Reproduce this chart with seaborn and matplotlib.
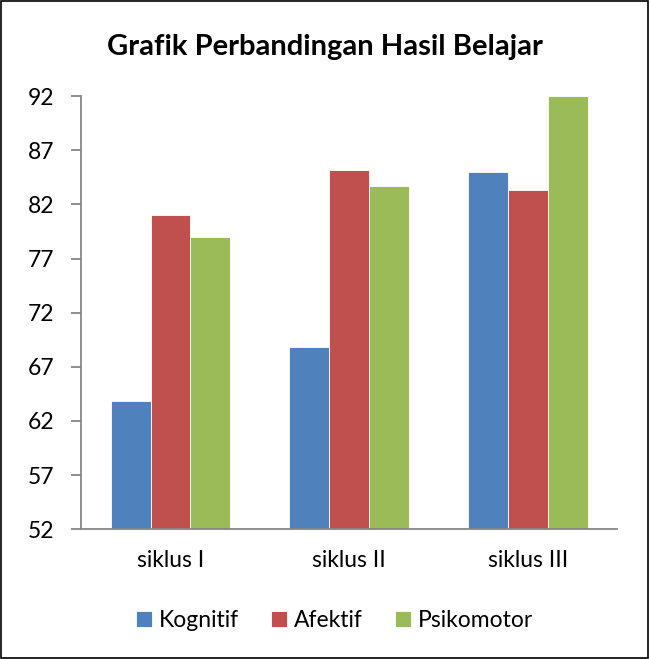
import matplotlib
matplotlib.use("Agg")
import matplotlib.pyplot as plt
import seaborn as sns
import pandas as pd
from matplotlib.patches import Rectangle
from matplotlib.ticker import FixedLocator

categories = ["siklus I", "siklus II", "siklus III"]
series = ["Kognitif", "Afektif", "Psikomotor"]
kognitif = [63.8, 68.8, 85.0]
afektif = [81.0, 85.2, 83.3]
psikomotor = [79.0, 83.7, 92.0]
yticks = [52, 57, 62, 67, 72, 77, 82, 87, 92]
colors = ["#4F81BD", "#C0504D", "#9BBB59"]

rows = []
for name, vals in zip(series, [kognitif, afektif, psikomotor]):
    for c, v in zip(categories, vals):
        rows.append({"cat": c, "series": name, "value": v})
df = pd.DataFrame(rows)

sns.set_theme(style="white")
plt.rcParams['font.family'] = ['Lato', 'DejaVu Sans']
plt.rcParams['text.color'] = 'black'
plt.rcParams['xtick.color'] = 'black'
plt.rcParams['ytick.color'] = 'black'

fig = plt.figure(figsize=(6.49, 6.59), dpi=100)
ax = fig.add_axes([0.125, 0.197, 0.826, 0.657])

sns.barplot(data=df, x="cat", y="value", hue="series", order=categories,
            hue_order=series, palette=colors, width=0.67, gap=0, saturation=1,
            edgecolor="white", linewidth=0.6, ax=ax, legend=True)

ax.set_ylim(52, 92)
ax.set_xlim(-0.5, 2.5)
ax.set_yticks(yticks)
ax.set_yticklabels([str(t) for t in yticks], fontsize=16.5)
ax.set_xlabel("")
ax.set_ylabel("")
ax.set_xticks(range(len(categories)))
ax.set_xticklabels(categories, fontsize=16.5)
ax.xaxis.set_minor_locator(FixedLocator([-0.5, 0.5, 1.5, 2.5]))
ax.tick_params(axis="x", which="major", length=0, pad=15, labelcolor="black")
ax.tick_params(axis="x", which="minor", length=7, width=1.3, color="#868686", direction="out")
ax.tick_params(axis="y", length=7, width=1.3, color="#868686", direction="out", left=True,
               pad=12, labelcolor="black")
for s in ["top", "right"]:
    ax.spines[s].set_visible(False)
for s in ["left", "bottom"]:
    ax.spines[s].set_color("#868686")
    ax.spines[s].set_linewidth(1.3)

handles, labels = ax.get_legend_handles_labels()
ax.get_legend().remove()
fig.legend(handles, labels, loc="center", bbox_to_anchor=(0.515, 0.059), ncol=3,
           frameon=False, fontsize=16.5, handlelength=0.7, handleheight=0.7,
           handletextpad=0.3, columnspacing=1.4)

fig.text(0.5, 0.928, "Grafik Perbandingan Hasil Belajar", ha="center", va="center",
         fontsize=21, fontweight="bold", color="black")

fig.patches.append(Rectangle((0.002, 0.002), 0.996, 0.996, transform=fig.transFigure,
                             fill=False, edgecolor="black", linewidth=1.2))

fig.savefig("out.png", dpi=100)
